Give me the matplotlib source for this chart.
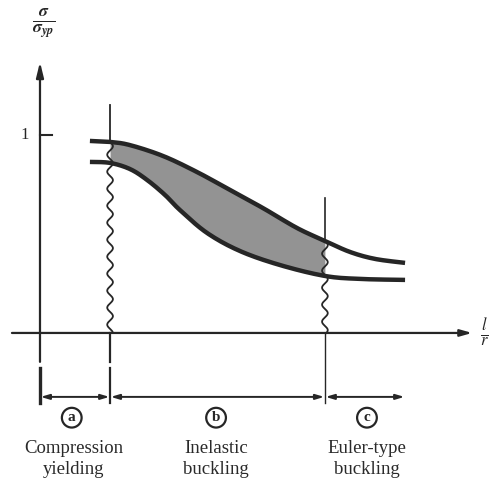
import numpy as np
import matplotlib.pyplot as plt
import matplotlib

matplotlib.rcParams['font.family'] = ['Liberation Serif', 'DejaVu Serif']
matplotlib.rcParams['mathtext.fontset'] = 'stix'

# slenderness l/r (arbitrary units) and sigma / sigma_yp
upper_x = [22.8, 32.0, 41.1, 56.2, 71.7, 86.8, 101.8, 117.4, 130.1, 141.6, 153.0, 166.7]
upper_y = [0.970, 0.965, 0.949, 0.894, 0.813, 0.722, 0.631, 0.530, 0.465, 0.409, 0.374, 0.354]
lower_x = [22.8, 32.0, 41.1, 48.9, 57.1, 63.9, 76.3, 91.3, 109.6, 130.1, 146.1, 166.7]
lower_y = [0.864, 0.859, 0.828, 0.773, 0.697, 0.621, 0.505, 0.414, 0.343, 0.288, 0.273, 0.268]

bounds = [0, 32.0, 130.1, 166.7]          # region limits a | b | c
letters = ['a', 'b', 'c']
region_labels = ['Compression\nyielding', 'Inelastic\nbuckling', 'Euler-type\nbuckling']
label_x = [15.5, 80.4, 149.3]

ink = '#262626'


def smooth(px, py, k=20):
    # catmull-rom through the read points, only to draw a round curve
    p = np.column_stack([px, py])
    p = np.vstack([p[0], p, p[-1]])
    out = []
    t = np.linspace(0, 1, k, endpoint=False)[:, None]
    for i in range(1, len(p) - 2):
        p0, p1, p2, p3 = p[i - 1], p[i], p[i + 1], p[i + 2]
        out.append(0.5 * (2 * p1 + (-p0 + p2) * t + (2 * p0 - 5 * p1 + 4 * p2 - p3) * t ** 2
                          + (-p0 + 3 * p1 - 3 * p2 + p3) * t ** 3))
    out.append(p[-2][None, :])
    out = np.vstack(out)
    return out[:, 0], out[:, 1]


fig = plt.figure(figsize=(4.91, 4.84), dpi=100)
ax = fig.add_axes([0, 0, 1, 1])
ax.set_xlim(-18.26, 205.94)
ax.set_ylim(-0.763, 1.682)
ax.axis('off')

# axes with arrows
ax.annotate('', xy=(0, 1.369), xytext=(0, -0.146),
            arrowprops=dict(arrowstyle='-|>,head_length=0.9,head_width=0.22', lw=1.6, color=ink,
                            shrinkA=0, shrinkB=0))
ax.annotate('', xy=(197.3, 0), xytext=(-12.8, 0),
            arrowprops=dict(arrowstyle='-|>,head_length=0.7,head_width=0.2', lw=1.6, color=ink,
                            shrinkA=0, shrinkB=0))
ax.plot([0, 5.5], [1, 1], color=ink, lw=1.5)
ax.text(-6.8, 1.0, '1', ha='center', va='center', fontsize=12, color=ink)

ax.text(1.5, 1.56, r'$\frac{\boldsymbol{\sigma}}{\boldsymbol{\sigma}_{\boldsymbol{yp}}}$',
        ha='center', va='center', fontsize=18, color=ink)
ax.text(200.8, 0.0, r'$\frac{l}{r}$', ha='left', va='center', fontsize=17, color=ink)

ux, uy = smooth(upper_x, upper_y)
lx, ly = smooth(lower_x, lower_y)

# shaded band of column strength
gx = np.linspace(bounds[1], bounds[2], 200)
ax.fill_between(gx, np.interp(gx, lx, ly), np.interp(gx, ux, uy), color='#939393', lw=0)

ax.plot(ux, uy, color=ink, lw=3.2, solid_capstyle='butt', solid_joinstyle='round')
ax.plot(lx, ly, color=ink, lw=3.2, solid_capstyle='butt', solid_joinstyle='round')


def wavy(x0, y_top, y_bot):
    n = (y_top - y_bot) * 198 / 17.0
    t = np.linspace(0, 1, 600)
    ax.plot(x0 + 1.3 * np.sin(2 * np.pi * n * t), y_top + (y_bot - y_top) * t, color=ink, lw=1.3)


# boundary lines
ax.plot([bounds[1]] * 2, [1.152, upper_y[1]], color=ink, lw=1.3)
wavy(bounds[1], upper_y[1], 0)
ax.plot([bounds[1]] * 2, [0, -0.146], color=ink, lw=1.6)
ax.plot([bounds[1]] * 2, [-0.177, -0.354], color=ink, lw=1.6)

ax.plot([bounds[2]] * 2, [0.682, upper_y[8]], color=ink, lw=1.2)
wavy(bounds[2], upper_y[8], 0)
ax.plot([bounds[2]] * 2, [0, -0.354], color=ink, lw=1.0)

ax.plot([0, 0], [-0.177, -0.354], color=ink, lw=2.4)

# dimension arrows
for i in range(3):
    ax.annotate('', xy=(bounds[i + 1], -0.323), xytext=(bounds[i], -0.323),
                arrowprops=dict(arrowstyle='<|-|>,head_length=0.5,head_width=0.15', lw=1.4,
                                color=ink, shrinkA=0.5, shrinkB=0.5))
    ax.text(label_x[i] - 1 if i == 0 else label_x[i], -0.428, letters[i], ha='center', va='center',
            fontsize=11, fontweight='bold', color=ink,
            bbox=dict(boxstyle='circle,pad=0.22', fc='white', ec=ink, lw=1.6))
    ax.text(label_x[i], -0.636, region_labels[i], ha='center', va='center', fontsize=13.5,
            color='#2a2a2a', linespacing=1.3)

fig.savefig('out.png', dpi=100)
